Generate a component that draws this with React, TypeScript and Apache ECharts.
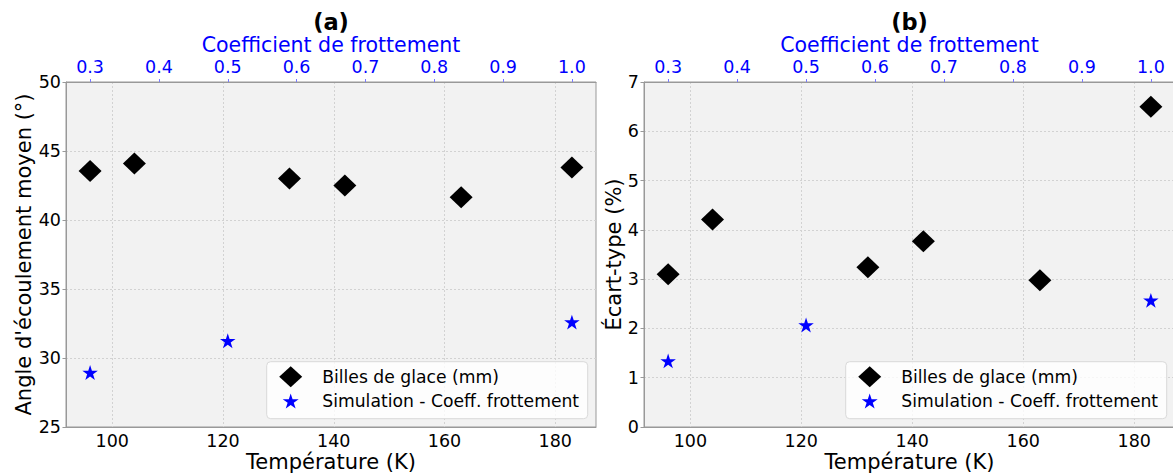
import React, { useEffect, useRef } from "react";
import * as echarts from "echarts";

// ---- Data ----
const temperatureK = [96, 104, 132, 142, 163, 183];
const angleMoyen = [43.55, 44.1, 43.0, 42.5, 41.65, 43.8];
const ecartType = [3.1, 4.21, 3.24, 3.77, 2.98, 6.5];

const coeffFrottement = [0.3, 0.5, 1.0];
const angleSimulation = [28.95, 31.25, 32.6];
const ecartSimulation = [1.34, 2.07, 2.57];

const tempTicks = [100, 120, 140, 160, 180];
const coeffTicks = [0.3, 0.4, 0.5, 0.6, 0.7, 0.8, 0.9, 1.0];

const panelTitles = ["(a)", "(b)"];
const seriesNames = ["Billes de glace (mm)", "Simulation - Coeff. frottement"];
const xName = "Température (K)";
const topName = "Coefficient de frottement";
const yNames = ["Angle d'écoulement moyen (°)", "Écart-type (%)"];

const FONT = "DejaVu Sans";
const STAR =
  "path://M0,-100 L-22.45,-30.9 L-95.11,-30.9 L-36.33,11.8 L-58.78,80.9 L0,38.2 L58.78,80.9 L36.33,11.8 L95.11,-30.9 L22.45,-30.9 Z";

function padded(values: number[]) {
  const lo = Math.min(...values);
  const hi = Math.max(...values);
  const m = (hi - lo) * 0.05;
  return [lo - m, hi + m];
}

export default function App() {
  const ref = useRef<HTMLDivElement>(null);

  useEffect(() => {
    if (!ref.current) return;
    const chart = echarts.init(ref.current, null, { renderer: "svg" });
    const [tMin, tMax] = padded(temperatureK);
    const [cMin, cMax] = padded(coeffFrottement);

    const grids = [
      { left: 66, top: 82, width: 530, height: 345 },
      { left: 644, top: 82, width: 531, height: 345 },
    ];
    const centers = [66 + 265, 644 + 265.5];
    const gridLine = { show: true, lineStyle: { color: "#d2d2d2", width: 1, type: [2, 2] } };
    const nameStyle = (color: string) => ({
      fontSize: 21,
      lineHeight: 21,
      fontFamily: FONT,
      color,
    });
    const tickLabel = (color: string, margin: number) => ({
      fontSize: 17.5,
      lineHeight: 17.5,
      fontFamily: FONT,
      color,
      margin,
    });

    const xAxes: any[] = [];
    const yAxes: any[] = [];
    grids.forEach((_, gi) => {
      xAxes.push({
        type: "value",
        gridIndex: gi,
        position: "bottom",
        min: tMin,
        max: tMax,
        name: xName,
        nameLocation: "middle",
        nameGap: 24,
        nameMoveOverlap: false,
        nameTextStyle: nameStyle("#000"),
        axisLine: { show: true, lineStyle: { color: "#999", width: 1 } },
        axisTick: { show: false, customValues: tempTicks },
        axisLabel: {
          ...tickLabel("#000", 5),
          customValues: tempTicks,
          formatter: (v: number) => String(Math.round(v)),
        },
        splitLine: gridLine,
      });
      xAxes.push({
        type: "value",
        gridIndex: gi,
        position: "top",
        min: cMin,
        max: cMax,
        name: topName,
        nameLocation: "middle",
        nameGap: 26.45,
        nameMoveOverlap: false,
        nameTextStyle: { ...nameStyle("#0000ff"), fontSize: 20.5, lineHeight: 20.5 },
        axisLine: { show: true, lineStyle: { color: "#999", width: 1 } },
        axisTick: {
          show: true,
          customValues: coeffTicks,
          length: 3,
          lineStyle: { color: "#7a7aff" },
        },
        axisLabel: {
          ...tickLabel("#0000ff", 6),
          customValues: coeffTicks,
          formatter: (v: number) => v.toFixed(1),
        },
        splitLine: { show: false },
      });
    });
    yAxes.push({
      type: "value",
      gridIndex: 0,
      min: 25,
      max: 50,
      interval: 5,
      name: yNames[0],
      nameLocation: "middle",
      nameGap: 32,
      nameMoveOverlap: false,
      nameTextStyle: nameStyle("#000"),
      axisLine: { show: true, lineStyle: { color: "#999", width: 1 } },
      axisTick: { show: true, length: 3.5, lineStyle: { color: "#999" } },
      axisLabel: tickLabel("#000", 5),
      splitLine: gridLine,
    });
    yAxes.push({
      type: "value",
      gridIndex: 1,
      min: 0,
      max: 7,
      interval: 1,
      name: yNames[1],
      nameLocation: "middle",
      nameGap: 20,
      nameMoveOverlap: false,
      nameTextStyle: nameStyle("#000"),
      axisLine: { show: true, lineStyle: { color: "#999", width: 1 } },
      axisTick: { show: true, length: 3.5, lineStyle: { color: "#999" } },
      axisLabel: tickLabel("#000", 5),
      splitLine: gridLine,
    });

    const series: any[] = [];
    const panelY = [angleMoyen, ecartType];
    const panelSim = [angleSimulation, ecartSimulation];
    [0, 1].forEach((gi) => {
      series.push({
        type: "scatter",
        name: seriesNames[0],
        xAxisIndex: gi * 2,
        yAxisIndex: gi,
        symbol: "diamond",
        symbolSize: [23, 22],
        itemStyle: { color: "#000000", opacity: 1 },
        data: temperatureK.map((t, i) => [t, panelY[gi][i]]),
        z: 3,
      });
      series.push({
        type: "scatter",
        name: seriesNames[1],
        xAxisIndex: gi * 2 + 1,
        yAxisIndex: gi,
        symbol: STAR,
        symbolSize: [15.5, 14.8],
        itemStyle: { color: "#0000ff", opacity: 1 },
        data: coeffFrottement.map((c, i) => [c, panelSim[gi][i]]),
        z: 3,
      });
    });

    const legendBoxes = [266.7, 845.7];
    const legends: any[] = [];
    const graphics: any[] = [];
    legendBoxes.forEach((bx) => {
      const iconCx = bx + 24;
      graphics.push({
        type: "rect",
        z: 5,
        shape: { x: bx, y: 361.7, width: 321, height: 57, r: 4 },
        style: { fill: "rgba(255,255,255,0.8)", stroke: "#d9d9d9", lineWidth: 1 },
      });
      legends.push({
        data: [{ name: seriesNames[0], icon: "diamond", itemStyle: { color: "#000000", opacity: 1 } }],
        left: iconCx - 11.5,
        top: 376.7 - 10.5,
        padding: 0,
        itemWidth: 23,
        itemHeight: 21,
        selectedMode: false,
        z: 6,
        textStyle: { fontSize: 17.2, fontFamily: FONT, color: "#000", padding: [0, 0, 0, 15] },
      });
      legends.push({
        data: [{ name: seriesNames[1], icon: STAR, itemStyle: { color: "#0000ff", opacity: 1 } }],
        left: iconCx - 8,
        top: 403 - 10.5,
        padding: 0,
        itemWidth: 16,
        itemHeight: 15.2,
        selectedMode: false,
        z: 6,
        textStyle: { fontSize: 17.2, fontFamily: FONT, color: "#000", padding: [0, 0, 0, 18.6] },
      });
    });

    chart.setOption({
      animation: false,
      backgroundColor: "#ffffff",
      textStyle: { fontFamily: FONT },
      title: panelTitles.map((t, i) => ({
        text: t,
        left: centers[i],
        textAlign: "center",
        top: 11,
        padding: 0,
        textStyle: {
          fontSize: 22.5,
          lineHeight: 22,
          fontWeight: "bold",
          fontFamily: FONT,
          color: "#000",
        },
      })),
      grid: grids.map((g) => ({
        ...g,
        outerBoundsMode: "none",
        containLabel: false,
        show: true,
        backgroundColor: "#f2f2f2",
        borderColor: "#999",
        borderWidth: 1,
      })),
      xAxis: xAxes,
      yAxis: yAxes,
      legend: legends,
      graphic: graphics,
      series,
    });
    return () => chart.dispose();
  }, []);

  return (
    <div
      ref={ref}
      style={{ position: "fixed", left: 0, top: 0, width: 1173, height: 473 }}
    />
  );
}
